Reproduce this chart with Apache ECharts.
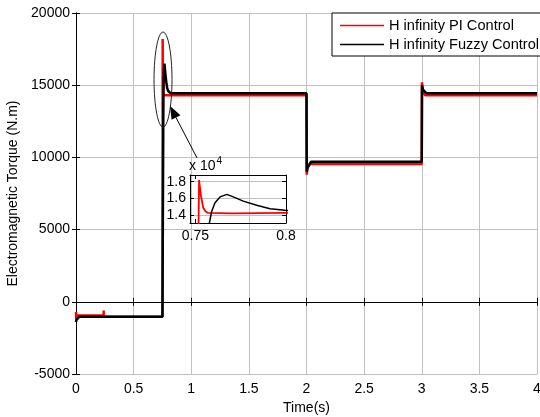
<!DOCTYPE html>
<html><head><meta charset="utf-8">
<script src="https://cdn.jsdelivr.net/npm/echarts@6/dist/echarts.min.js"></script>
<style>html,body{margin:0;padding:0;background:#fff}#c{width:540px;height:417px}</style>
</head><body><div id="c"></div>
<script>
// ---- data ----
const seriesNames = ['H infinity PI Control', 'H infinity Fuzzy Control'];
const piTime = [0, 0.003, 0.01, 0.24, 0.2402, 0.2405, 0.751, 0.752, 0.753, 0.7543, 0.7555, 0.757, 0.77, 0.8, 2.0, 2.002, 2.008, 2.03, 3.0, 3.002, 3.008, 3.03, 4.0];
const piTorque = [-700, -1250, -950, -950, -600, -1030, -1030, 18200, 16400, 14900, 14500, 14300, 14250, 14300, 14300, 8800, 9300, 9550, 9550, 15200, 14600, 14300, 14300];
const fuzzyTime = [0, 0.004, 0.03, 0.75, 0.7577, 0.759, 0.7608, 0.7636, 0.7673, 0.7709, 0.7764, 0.7838, 0.7912, 0.7994, 0.82, 2.0, 2.002, 2.01, 2.04, 3.0, 3.002, 3.01, 3.04, 4.0];
const fuzzyTorque = [-1400, -1250, -1030, -1030, 13100, 14500, 15500, 16200, 16500, 16200, 15700, 15200, 14800, 14600, 14450, 14450, 9000, 9300, 9700, 9700, 15000, 14700, 14450, 14450];
const insetYTicks = [14000, 16000, 18000];
const insetXTicks = [0.75, 0.8];
const xTitle = 'Time(s)';
const yTitle = 'Electromagnetic Torque (N.m)';

const FONT = 'Liberation Sans, Arial, sans-serif';
const zip = (a, b) => a.map((t, i) => [t, b[i]]);
const piData = zip(piTime, piTorque);
const fuzzyData = zip(fuzzyTime, fuzzyTorque);

const chart = echarts.init(document.getElementById('c'), null, {renderer: 'canvas'});
const lbl = {color: '#000', fontFamily: FONT, fontSize: 14};
const tick = {show: true, inside: true, length: 4, lineStyle: {color: '#000'}};
const axLine = {show: true, lineStyle: {color: '#000', width: 1}};

const option = {
  animation: false,
  backgroundColor: '#fff',
  textStyle: {fontFamily: FONT},
  grid: [
    {left: 76, top: 13, width: 461, height: 361, show: false, containLabel: false, outerBoundsMode: 'none'},
    {left: 190, top: 175, width: 96, height: 48, show: false, containLabel: false, outerBoundsMode: 'none'}
  ],
  legend: {
    data: seriesNames,
    orient: 'vertical',
    left: 332, top: 13,
    itemWidth: 44, itemHeight: 1.5, icon: 'rect', itemGap: 4,
    padding: [5, 10, 4, 8],
    borderColor: '#000', borderWidth: 1, backgroundColor: '#fff',
    textStyle: {color: '#000', fontFamily: FONT, fontSize: 14.6},
    z: 20
  },
  xAxis: [
    {type: 'value', gridIndex: 0, min: 0, max: 4, interval: 0.5,
     name: xTitle, nameLocation: 'middle', nameGap: 26, nameTextStyle: lbl,
     axisLine: axLine, axisTick: tick,
     axisLabel: Object.assign({margin: 8, formatter: v => String(v)}, lbl),
     splitLine: {show: true, lineStyle: {color: '#c0c0c0', width: 1}}},
    {type: 'value', gridIndex: 1, min: 0.747, max: 0.8,
     axisLine: axLine, axisTick: Object.assign({customValues: insetXTicks}, tick),
     axisLabel: Object.assign({margin: 6, customValues: insetXTicks, formatter: v => String(v)}, lbl),
     splitLine: {show: false}},
    {type: 'value', gridIndex: 0, position: 'top', min: 0, max: 4, interval: 0.5,
     axisLine: axLine, axisTick: tick, axisLabel: {show: false}, splitLine: {show: false}},
    {type: 'value', gridIndex: 1, position: 'top', min: 0.747, max: 0.8,
     axisLine: axLine, axisTick: Object.assign({customValues: insetXTicks}, tick), axisLabel: {show: false}, splitLine: {show: false}}
  ],
  yAxis: [
    {type: 'value', gridIndex: 0, min: -5000, max: 20000, interval: 5000,
     name: yTitle, nameLocation: 'middle', nameGap: 55, nameRotate: 90, nameTextStyle: lbl,
     axisLine: axLine, axisTick: tick,
     axisLabel: Object.assign({margin: 6, formatter: v => String(v)}, lbl),
     splitLine: {show: true, lineStyle: {color: '#c0c0c0', width: 1}}},
    {type: 'value', gridIndex: 1, min: 13100, max: 18800,
     axisLine: axLine, axisTick: Object.assign({customValues: insetYTicks}, tick),
     axisLabel: Object.assign({margin: 4, customValues: insetYTicks, formatter: v => String(v / 10000)}, lbl),
     splitLine: {show: true, lineStyle: {color: '#c0c0c0', width: 1}}},
    {type: 'value', gridIndex: 0, position: 'right', min: -5000, max: 20000, interval: 5000,
     axisLine: axLine, axisTick: tick, axisLabel: {show: false}, splitLine: {show: false}},
    {type: 'value', gridIndex: 1, position: 'right', min: 13100, max: 18800,
     axisLine: axLine, axisTick: Object.assign({customValues: insetYTicks}, tick), axisLabel: {show: false}, splitLine: {show: false}}
  ],
  series: [
    {name: seriesNames[0], type: 'line', xAxisIndex: 0, yAxisIndex: 0, data: piData,
     showSymbol: false, symbol: 'none', color: '#ff0000', lineStyle: {color: '#ff0000', width: 2.5}, z: 2},
    {name: seriesNames[1], type: 'line', xAxisIndex: 0, yAxisIndex: 0, data: fuzzyData,
     showSymbol: false, symbol: 'none', color: '#000000', lineStyle: {color: '#000000', width: 2.5}, z: 3},
    {name: seriesNames[0], type: 'line', xAxisIndex: 1, yAxisIndex: 1, data: piData, clip: true,
     showSymbol: false, symbol: 'none', color: '#ff0000', lineStyle: {color: '#ff0000', width: 1.8}, z: 2},
    {name: seriesNames[1], type: 'line', xAxisIndex: 1, yAxisIndex: 1, data: fuzzyData, clip: true,
     showSymbol: false, symbol: 'none', color: '#000000', lineStyle: {color: '#000000', width: 1.5}, z: 3}
  ]
};
chart.setOption(option);

// annotations anchored to data coordinates
const P = (t, v) => chart.convertToPixel({xAxisIndex: 0, yAxisIndex: 0}, [t, v]);
const eTL = P(0.677, 18680), eBR = P(0.833, 12100);
const tip = P(0.816, 13560), tail = P(1.05, 9960);
const dx = tip[0] - tail[0], dy = tip[1] - tail[1];
const L = Math.hypot(dx, dy), ux = dx / L, uy = dy / L;
const hb = [tip[0] - 13 * ux, tip[1] - 13 * uy];
const w1 = [hb[0] - 5 * uy, hb[1] + 5 * ux], w2 = [hb[0] + 5 * uy, hb[1] - 5 * ux];
const inTL = chart.convertToPixel({xAxisIndex: 1, yAxisIndex: 1}, [0.747, 18800]);

chart.setOption({
  graphic: [
    {type: 'ellipse', shape: {cx: (eTL[0] + eBR[0]) / 2, cy: (eTL[1] + eBR[1]) / 2, rx: (eBR[0] - eTL[0]) / 2, ry: (eBR[1] - eTL[1]) / 2},
     style: {fill: 'none', stroke: '#222', lineWidth: 1}, z: 10},
    {type: 'line', shape: {x1: tail[0], y1: tail[1], x2: hb[0], y2: hb[1]}, style: {stroke: '#000', lineWidth: 1}, z: 10},
    {type: 'polygon', shape: {points: [tip, w1, w2]}, style: {fill: '#000'}, z: 10},
    {type: 'text', left: inTL[0] - 1, top: inTL[1] - 19,
     style: {text: '{a|x 10}{s|4}', rich: {a: {fontSize: 14, fontFamily: FONT, fill: '#000'}, s: {fontSize: 10, fontFamily: FONT, fill: '#000', verticalAlign: 'top', padding: [0, 0, 10, 1]}}}, z: 10}
  ]
});
</script></body></html>
